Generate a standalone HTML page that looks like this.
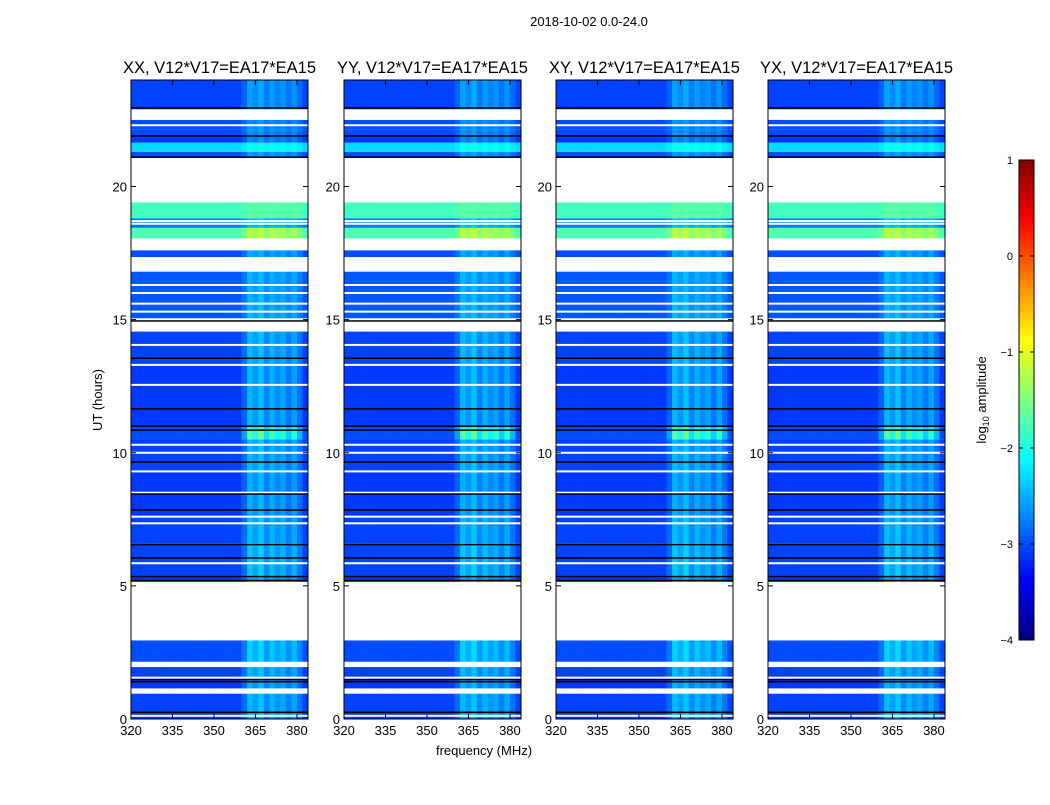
<!DOCTYPE html>
<html><head><meta charset="utf-8"><style>
body{margin:0;background:#fff;font-family:"Liberation Sans",sans-serif}
svg text{font-family:"Liberation Sans",sans-serif;fill:#000}
</style></head><body>
<svg id="fig" width="1050" height="800" xmlns="http://www.w3.org/2000/svg">
<text x="589" y="26" font-size="13" text-anchor="middle">2018-10-02 0.0-24.0</text>
<text x="484" y="755" font-size="13" text-anchor="middle">frequency (MHz)</text>
<text transform="translate(102,400) rotate(-90)" font-size="13" text-anchor="middle">UT (hours)</text>
<g id="panels"></g>
<g id="cbar"></g>
</svg>
<script>
const panelTitles=["XX, V12*V17=EA17*EA15","YY, V12*V17=EA17*EA15","XY, V12*V17=EA17*EA15","YX, V12*V17=EA17*EA15"];
const panelLefts=[131,344,556,768];
const xTicks=[320,335,350,365,380];
const yTicks=[0,5,10,15,20];
const cbarTicks=[1,0,-1,-2,-3,-4];
// segments: [startHour,endHour,baseLog10Amp (null=flagged), bandGain]
const segStart=[0,0.3,0.95,1.15,1.6,1.95,2.15,2.95,5.15,5.35,6.6,7.6,8.5,9.3,10.0,10.5,10.95,11.0,13.3,14.55,15.05,16.8,17.35,17.6,18.05,18.45,18.8,19.4,21.1,21.3,21.65,21.9,22.15,22.5,22.9];
const segEnd=[0.3,0.95,1.15,1.6,1.95,2.15,2.95,5.15,5.35,6.6,7.6,8.5,9.3,10.0,10.5,10.95,11.0,13.3,14.55,15.05,16.8,17.35,17.6,18.05,18.45,18.8,19.4,21.1,21.3,21.65,21.9,22.15,22.5,22.9,24];
const segLevel=[-3.1,-3.05,null,-3.1,-3.05,null,-3.0,null,-3.1,-3.05,-3.05,-3.1,-3.1,-3.05,-3.05,-3.0,-3.1,-3.1,-3.05,null,-2.95,null,-3.0,null,-1.75,-2.8,-1.8,null,-3.0,-2.3,-3.1,-3.0,-3.0,null,-3.05];
const segGain=[1,1,0,1,1,0,1.1,0,1,1.1,1,1,1,1,1,2.2,1,1.05,1,0,0.8,0,0.8,0,0.9,0.6,0.2,0,0.7,0.4,0.7,0.6,0.6,0,0.8];
// frequency bins (MHz start, 2 MHz wide) and band boost in log10 units
const freqBins=[320,322,324,326,328,330,332,334,336,338,340,342,344,346,348,350,352,354,356,358,360,362,364,366,368,370,372,374,376,378,380,382];
const freqBoost=[0,0,0,0,0,0,0,0,0,0,0,0,0,0,0,0,0,0,0,0,0.2,0.6,0.45,0.65,0.35,0.55,0.4,0.5,0.3,0.5,0.25,0];
// thin black flag lines (hours)
const blackLines=[0.25,1.4,1.48,5.2,5.35,6.05,6.55,7.85,8.45,9.65,10.85,11.0,11.65,13.55,14.95,22.95,21.1,21.9];
const whiteLines=[0.12,1.55,5.85,7.35,7.6,8.5,9.3,10.0,10.3,12.55,13.3,14.05,15.3,15.6,16.0,16.3,18.6,18.7,22.3];

const NS="http://www.w3.org/2000/svg";
const PW=177,TOP=80,BOT=719;
function yS(h){return BOT-(h/24)*(BOT-TOP);}
function xS(left,f){return left+(f-320)/64*PW;}
function jet(v){let t=Math.max(0,Math.min(1,(v+4)/5));const c=x=>Math.round(255*Math.max(0,Math.min(1,1.5-Math.abs(4*t-x))));return `rgb(${c(3)},${c(2)},${c(1)})`;}
function mk(tag,attrs,parent){const e=document.createElementNS(NS,tag);for(const k in attrs)e.setAttribute(k,attrs[k]);parent.appendChild(e);return e;}
const panels=document.getElementById('panels');
panelLefts.forEach((L,p)=>{
  const g=mk('g',{},panels);
  
  
  const t=mk('text',{x:L+PW/2,y:73,'font-size':16.5,'text-anchor':'middle'},g);t.textContent=panelTitles[p];
  
  
  segStart.forEach((s,i)=>{
    if(segLevel[i]===null)return;
    freqBins.forEach((f,j)=>{
      const v=segLevel[i]+freqBoost[j]*segGain[i];
      const r=mk('rect',{x:xS(L,f),y:yS(segEnd[i]),width:xS(L,f+2)-xS(L,f)+0.3,height:yS(segStart[i])-yS(segEnd[i]),fill:jet(v)},g);
      
      
    });
  });
  whiteLines.forEach(h=>{const r=mk('rect',{x:L,y:yS(h)-1,width:PW,height:2,fill:'#fff'},g);
    
    });
  blackLines.forEach(h=>{const r=mk('rect',{x:L,y:yS(h)-0.75,width:PW,height:1.5,fill:'#000'},g);
    
    });
  const fr=mk('rect',{x:L,y:TOP,width:PW,height:BOT-TOP,fill:'none',stroke:'#000','stroke-width':1},g);
  
  
  xTicks.forEach(v=>{const x=xS(L,v);
    mk('line',{x1:x,x2:x,y1:BOT,y2:BOT-5,stroke:'#000'},g);mk('line',{x1:x,x2:x,y1:TOP,y2:TOP+5,stroke:'#000'},g);
    const tx=mk('text',{x:x,y:BOT+16,'font-size':13,'text-anchor':'middle'},g);tx.textContent=v;
    
    });
  yTicks.forEach(v=>{const y=yS(v);
    mk('line',{x1:L,x2:L+5,y1:y,y2:y,stroke:'#000'},g);mk('line',{x1:L+PW,x2:L+PW-5,y1:y,y2:y,stroke:'#000'},g);
    const ty=mk('text',{x:L-4,y:y+5,'font-size':13,'text-anchor':'end'},g);ty.textContent=v;
    
    });
});
// colorbar
const cb=document.getElementById('cbar');


const CT=160,CB=640,CX=1019,CW=15;
for(let i=0;i<120;i++){const v=1-5*i/120;mk('rect',{x:CX,y:CT+i*4,width:CW,height:4.3,fill:jet(v-5/240)},cb);}
mk('rect',{x:CX,y:CT,width:CW,height:CB-CT,fill:'none',stroke:'#000'},cb);
cbarTicks.forEach(v=>{const y=CT+(1-v)/5*(CB-CT);
  mk('line',{x1:CX,x2:CX+4,y1:y,y2:y,stroke:'#000'},cb);mk('line',{x1:CX+CW,x2:CX+CW-4,y1:y,y2:y,stroke:'#000'},cb);
  const t=mk('text',{x:CX-6,y:y+4,'font-size':11,'text-anchor':'end'},cb);t.textContent=v<0?'\u2212'+(-v):v;
  
  });
const cl=mk('text',{transform:'translate(986,400) rotate(-90)','font-size':13,'text-anchor':'middle'},cb);
cl.innerHTML='log<tspan font-size="9" dy="3">10</tspan><tspan dy="-3"> amplitude</tspan>';


</script>
</body></html>
